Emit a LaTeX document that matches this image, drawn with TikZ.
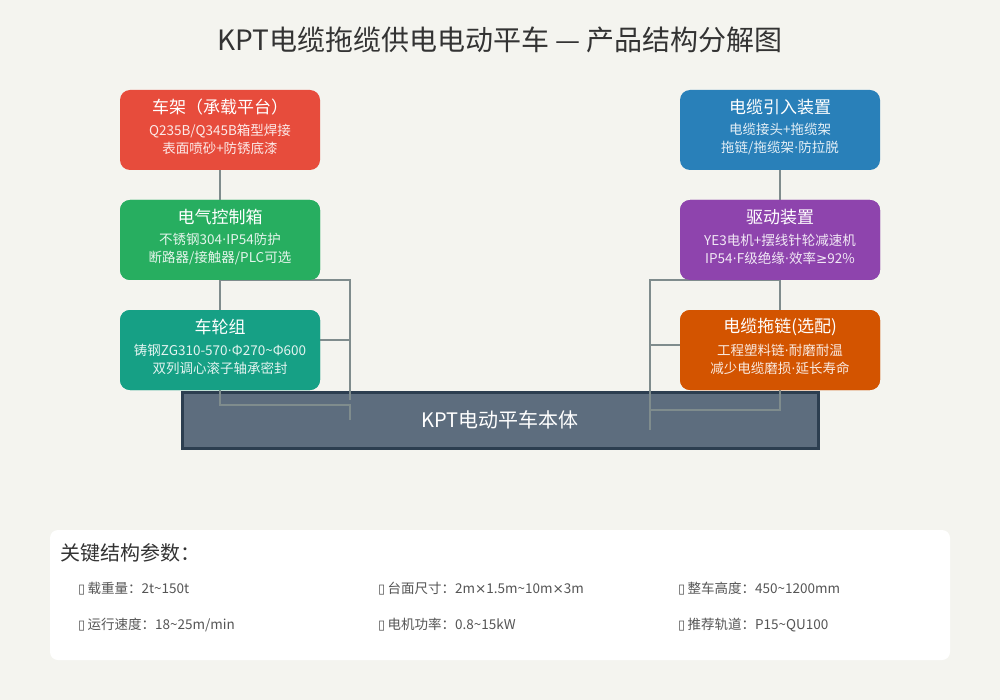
\documentclass[tikz,border=0pt]{standalone}
\usepackage{fontspec}
\setmainfont{Noto Sans CJK SC}
\newfontfamily\dejavu{DejaVu Sans}
\usetikzlibrary{calc}
\definecolor{bg}{HTML}{F4F4EF}
\definecolor{cRed}{HTML}{E74C3C}
\definecolor{cGreen}{HTML}{27AE60}
\definecolor{cTeal}{HTML}{16A085}
\definecolor{cBlue}{HTML}{2980B9}
\definecolor{cPurple}{HTML}{8E44AD}
\definecolor{cOrange}{HTML}{D35400}
\definecolor{bodyFill}{HTML}{5D6D7E}
\definecolor{bodyLine}{HTML}{2C3E50}
\definecolor{link}{HTML}{7F8C8D}
\definecolor{titleC}{HTML}{333333}
\definecolor{itemC}{HTML}{555555}
\newcommand{\md}{{\dejavu ·}}
\newcommand{\tl}{\textasciitilde}
\newcommand{\tofu}{{\dejavu\fontsize{13}{14}\selectfont ▯}}
\tikzset{
  part/.style={rectangle, rounded corners=10pt, minimum width=200pt, minimum height=80pt, inner sep=0pt, draw=none, fill=#1},
  ttl/.style={text=white, font=\fontsize{17}{20}\selectfont, inner sep=0pt},
  sub/.style={text=white, text opacity=0.88, font=\fontsize{13.5}{18}\selectfont, align=center, inner sep=0pt},
  conn/.style={draw=link, line width=2pt},
  item/.style={text=itemC, font=\fontsize{13.5}{16}\selectfont, anchor=west, inner sep=0pt},
}
\begin{document}
\begin{tikzpicture}[x=1pt,y=1pt,yscale=-1]
\useasboundingbox (0,0) rectangle (1000,700);
\fill[bg] (0,0) rectangle (1000,700);

\node[text=titleC, font=\fontsize{28}{32}\selectfont, inner sep=0pt] (title) at (500,40) {KPT电缆拖缆供电电动平车 — 产品结构分解图};

% body
\node[rectangle, draw=bodyLine, line width=3pt, fill=bodyFill, minimum width=636pt, minimum height=56pt, inner sep=0pt] (body) at (500,420) {};
\node[text=white, font=\fontsize{20}{24}\selectfont, inner sep=0pt] (bodyT) at (500,420) {KPT电动平车本体};

% coordinates for connector free ends
\coordinate (lA) at (350,400);
\coordinate (lB) at (350,405);
\coordinate (lC) at (350,420);
\coordinate (lD) at (350,340);
\coordinate (rA) at (650,430);
\coordinate (rB) at (650,410);
\coordinate (rD) at (650,345);

% nodes
\path (220,130) node[part=cRed] (frame) {};
\path (220,240) node[part=cGreen] (elec) {};
\path (220,350) node[part=cTeal] (wheel) {};
\path (780,130) node[part=cBlue] (cable) {};
\path (780,240) node[part=cPurple] (drive) {};
\path (780,350) node[part=cOrange] (chain) {};

% connectors
\draw[conn] (frame.south) -- (elec.north);
\draw[conn] (elec.south) -- (wheel.north);
\draw[conn] (elec.south) -| (lA);
\draw[conn] ($(wheel.east)+(0,-10)$) -- (lD);
\draw[conn] (wheel.south) |- (lB) -- (lC);
\draw[conn] (cable.south) -- (drive.north);
\draw[conn] (drive.south) -- (chain.north);
\draw[conn] (drive.south) -| (rA);
\draw[conn] ($(chain.west)+(0,-5)$) -- (rD);
\draw[conn] (chain.south) |- (rB);

% redraw boxes on top of connectors
\path (220,240) node[part=cGreen] (elecB) {};
\path (220,350) node[part=cTeal] (wheelB) {};
\path (780,240) node[part=cPurple] (driveB) {};
\path (780,350) node[part=cOrange] (chainB) {};

% texts
\node[ttl] (frameT) at (220,107) {车架（承载平台）};
\node[sub] (frameS) at (220,139) {Q235B/Q345B箱型焊接\\表面喷砂+防锈底漆};
\node[ttl] (elecT) at (220,217) {电气控制箱};
\node[sub] (elecS) at (220,249) {不锈钢304\md IP54防护\\断路器/接触器/PLC可选};
\node[ttl] (wheelT) at (220,327) {车轮组};
\node[sub] (wheelS) at (220,359) {铸钢ZG310-570\md Φ270\tl Φ600\\双列调心滚子轴承密封};
\node[ttl] (cableT) at (780,107) {电缆引入装置};
\node[sub] (cableS) at (780,139) {电缆接头+拖缆架\\拖链/拖缆架\md 防拉脱};
\node[ttl] (driveT) at (780,217) {驱动装置};
\node[sub] (driveS) at (780,249) {YE3电机+摆线针轮减速机\\IP54\md F级绝缘\md 效率{\dejavu ≥}92\%};
\node[ttl] (chainT) at (780,327) {电缆拖链(选配)};
\node[sub] (chainS) at (780,359) {工程塑料链\md 耐磨耐温\\减少电缆磨损\md 延长寿命};

% parameter panel
\node[rectangle, rounded corners=8pt, fill=white, minimum width=900pt, minimum height=130pt, inner sep=0pt] (panel) at (500,595) {};
\node[text=titleC, font=\fontsize{20}{24}\selectfont, anchor=west, inner sep=0pt] (panelT) at (60,553) {关键结构参数：};
\node[item] (p1) at (78,589) {\tofu\,载重量：2t\tl 150t};
\node[item] (p2) at (378,589) {\tofu\,台面尺寸：2m{\dejavu ×}1.5m\tl 10m{\dejavu ×}3m};
\node[item] (p3) at (678,589) {\tofu\,整车高度：450\tl 1200mm};
\node[item] (p4) at (78,625) {\tofu\,运行速度：18\tl 25m/min};
\node[item] (p5) at (378,625) {\tofu\,电机功率：0.8\tl 15kW};
\node[item] (p6) at (678,625) {\tofu\,推荐轨道：P15\tl QU100};
\end{tikzpicture}
\end{document}
